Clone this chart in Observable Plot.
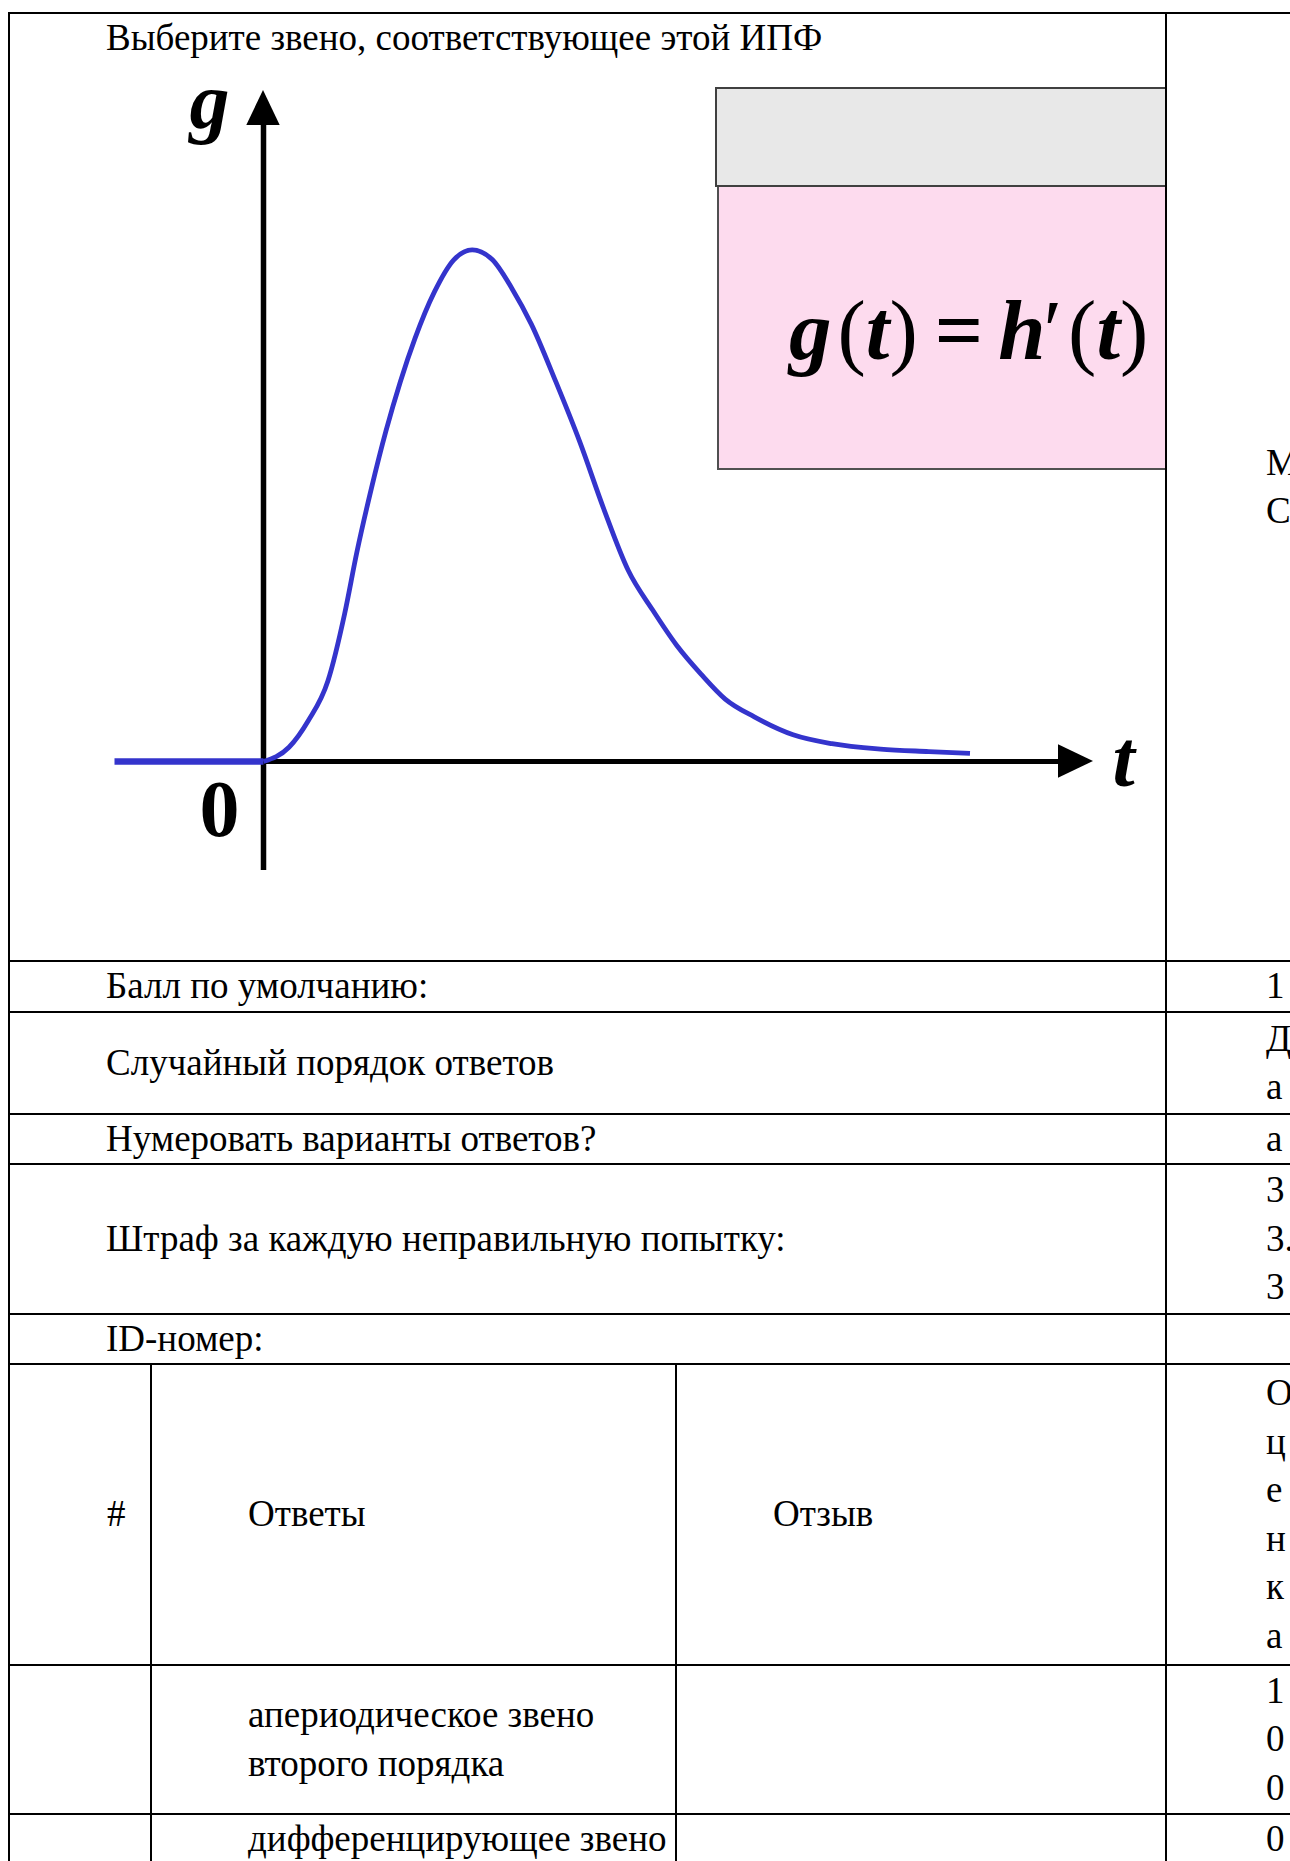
<!DOCTYPE html>
<html lang="ru">
<head>
<meta charset="utf-8">
<script src="https://cdn.jsdelivr.net/npm/d3@7"></script>
<script src="https://cdn.jsdelivr.net/npm/@observablehq/plot@0.6"></script>
<style>
html,body{margin:0;padding:0;background:#fff;}
#page{position:relative;width:1290px;height:1861px;overflow:hidden;font-family:"Liberation Serif","Times New Roman",serif;font-size:37px;line-height:48.5px;color:#000;}
.hl{position:absolute;height:2px;background:#000;}
.vl{position:absolute;width:2px;background:#000;}
.cell{position:absolute;display:flex;flex-direction:column;white-space:nowrap;}
.mid{justify-content:center;}
.top{justify-content:flex-start;}
#chart{position:absolute;left:0;top:0;}
.box{position:absolute;box-sizing:border-box;}
#formula{position:absolute;left:789px;top:288px;font-size:85px;line-height:85px;white-space:nowrap;}
#formula i{font-style:italic;font-weight:bold;}
#formula b{font-weight:bold;}
</style>
</head>
<body>
<div id="page"></div>
<script>
// ---------- chart data (t and g in chart units) ----------
const tValues = [0, 0.255, 0.449, 0.643, 0.812, 0.933, 1.079, 1.224, 1.37, 1.515, 1.709, 1.903, 2.087, 2.29, 2.484, 2.678, 2.921, 3.163, 3.406, 3.648, 3.89, 4.133, 4.375, 4.617, 4.908, 5.296, 5.684, 6.169, 6.653, 7.065];
const gValues = [0, 0.142, 0.41, 0.803, 1.481, 2.09, 2.731, 3.303, 3.803, 4.231, 4.696, 5.017, 5.117, 5.017, 4.731, 4.374, 3.803, 3.196, 2.517, 1.91, 1.517, 1.16, 0.874, 0.624, 0.446, 0.267, 0.178, 0.124, 0.099, 0.081];
const flatT = [-1.49, 0];
const flatG = [0, 0];
const axisNames = ["g", "t"];
const originLabel = "0";

// ---------- document texts ----------
const questionText = "Выберите звено, соответствующее этой ИПФ";
const topRightLines = ["М", "С"];
const settingLabels = ["Балл по умолчанию:", "Случайный порядок ответов", "Нумеровать варианты ответов?", "Штраф за каждую неправильную попытку:", "ID-номер:"];
const settingValues = [["1"], ["Д", "а"], ["а"], ["3", "3.", "3"], []];
const headerCells = ["#", "Ответы", "Отзыв"];
const headerGrade = ["О", "ц", "е", "н", "к", "а"];
const answers = [["апериодическое звено", "второго порядка"], ["дифференцирующее звено"]];
const grades = [["1", "0", "0"], ["0"]];

// ---------- layout ----------
const page = document.getElementById("page");
const L = 9, R = 1290, C4 = 1166, C2 = 151, C3 = 676;
const rowY = [13, 961, 1012, 1114, 1164, 1314, 1364, 1665, 1814];

function hline(y, x1, x2){const d=document.createElement("div");d.className="hl";d.style.left=x1+"px";d.style.top=(y-1)+"px";d.style.width=(x2-x1)+"px";page.appendChild(d);}
function vline(x, y1, y2, w){const d=document.createElement("div");d.className="vl";d.style.left=(x-1)+"px";d.style.top=y1+"px";d.style.height=(y2-y1)+"px";if(w){d.style.width=w+"px";d.style.left=(x-w/2)+"px";}page.appendChild(d);}
function cell(x, y1, y2, lines, cls){const d=document.createElement("div");d.className="cell "+cls;d.style.left=x+"px";d.style.top=(y1+1)+"px";d.style.height=(y2-y1-2)+"px";lines.forEach(s=>{const p=document.createElement("div");p.textContent=s;d.appendChild(p);});page.appendChild(d);return d;}

// formula inset boxes
const gray = document.createElement("div");gray.className="box";
Object.assign(gray.style,{left:"715px",top:"87px",width:(C4-715)+"px",height:"100px",background:"#e8e8e8",borderTop:"2px solid #404040",borderLeft:"2px solid #404040",borderBottom:"2px solid #404040"});
page.appendChild(gray);
const pink = document.createElement("div");pink.className="box";
Object.assign(pink.style,{left:"717px",top:"187px",width:(C4-717)+"px",height:"283px",background:"#fddbee",borderLeft:"2px solid #505050",borderBottom:"2px solid #505050"});
page.appendChild(pink);
const f = document.createElement("div");f.id="formula";
f.innerHTML = '<i>g</i><span style="margin-left:6px">(</span><i>t</i>)<b style="margin:0 15px 0 17px">=</b><i>h</i><span style="margin-left:-2px">\u2032</span><span style="margin-left:6px">(</span><i>t</i>)';
page.appendChild(f);

// chart (Observable Plot)
const curve = tValues.map((t,i)=>({t, g:gValues[i]}));
const flat = flatT.map((t,i)=>({t, g:flatG[i]}));
const xDom = [-1.5, 8.3], yDom = [-1.09, 6.71];
const head = 0.35, half = 0.167;
const xHead = [{t:xDom[1]-head, lo:-half, hi:half},{t:xDom[1], lo:0, hi:0}];
const yHead = [{g:yDom[1]-head, lo:-half, hi:half},{g:yDom[1], lo:0, hi:0}];
const serif = "Liberation Serif, Times New Roman, serif";
const blue = "#3434cc";

const chart = Plot.plot({
  width: 1167, height: 961,
  x: {domain: xDom, range: [113, 1093], axis: null},
  y: {domain: yDom, range: [870, 90], axis: null},
  style: {background: "transparent", overflow: "visible"},
  marks: [
    Plot.ruleX([0], {y1: yDom[0], y2: yDom[1]-head+0.02, stroke: "black", strokeWidth: 5.5}),
    Plot.ruleY([0], {x1: 0, x2: xDom[1]-head+0.02, stroke: "black", strokeWidth: 5}),
    Plot.areaY(xHead, {x: "t", y1: "lo", y2: "hi", fill: "black"}),
    Plot.areaX(yHead, {y: "g", x1: "lo", x2: "hi", fill: "black"}),
    Plot.line(flat, {x: "t", y: "g", stroke: blue, strokeWidth: 6.5, strokeLinecap: "butt"}),
    Plot.line(curve, {x: "t", y: "g", stroke: blue, strokeWidth: 4.8, strokeLinecap: "butt", curve: "monotone-x"}),
    Plot.text([axisNames[0]], {x: 0, y: yDom[1], text: d=>d, dx: -54, dy: 37, fontSize: 80, fontWeight: "bold", fontStyle: "italic", fontFamily: serif, textAnchor: "middle", lineAnchor: "bottom", fill: "black"}),
    Plot.text([axisNames[1]], {x: xDom[1], y: 0, text: d=>d, dx: 30, dy: 24, fontSize: 80, fontWeight: "bold", fontStyle: "italic", fontFamily: serif, textAnchor: "middle", lineAnchor: "bottom", fill: "black"}),
    Plot.text([originLabel], {x: 0, y: 0, text: d=>d, dx: -44, dy: 74, fontSize: 80, fontWeight: "bold", fontFamily: serif, textAnchor: "middle", lineAnchor: "bottom", fill: "black"})
  ]
});
chart.id = "chart";
page.appendChild(chart);

// table lines
rowY.forEach(y=>hline(y, L-1, R));
vline(L, rowY[0]-1, 1861);
vline(C4, rowY[0]-1, 63);
vline(C4, 63, 903, 1.2);
vline(C4, 903, 1861);
vline(C2, rowY[6], 1861);
vline(C3, rowY[6], 1861);

// texts
cell(106, rowY[0], rowY[1], [questionText], "top");
cell(1266, rowY[0], rowY[1], topRightLines, "mid");
settingLabels.forEach((s,i)=>{
  cell(106, rowY[i+1], rowY[i+2], [s], "mid");
  cell(1266, rowY[i+1], rowY[i+2], settingValues[i], "mid");
});
cell(107, rowY[6], rowY[7], [headerCells[0]], "mid");
cell(248, rowY[6], rowY[7], [headerCells[1]], "mid");
cell(773, rowY[6], rowY[7], [headerCells[2]], "mid");
cell(1266, rowY[6], rowY[7], headerGrade, "mid");
cell(248, rowY[7], rowY[8], answers[0], "mid");
cell(1266, rowY[7], rowY[8], grades[0], "mid");
cell(248, rowY[8], rowY[8]+52, answers[1], "top");
cell(1266, rowY[8], rowY[8]+52, grades[1], "top");
</script>
</body>
</html>
